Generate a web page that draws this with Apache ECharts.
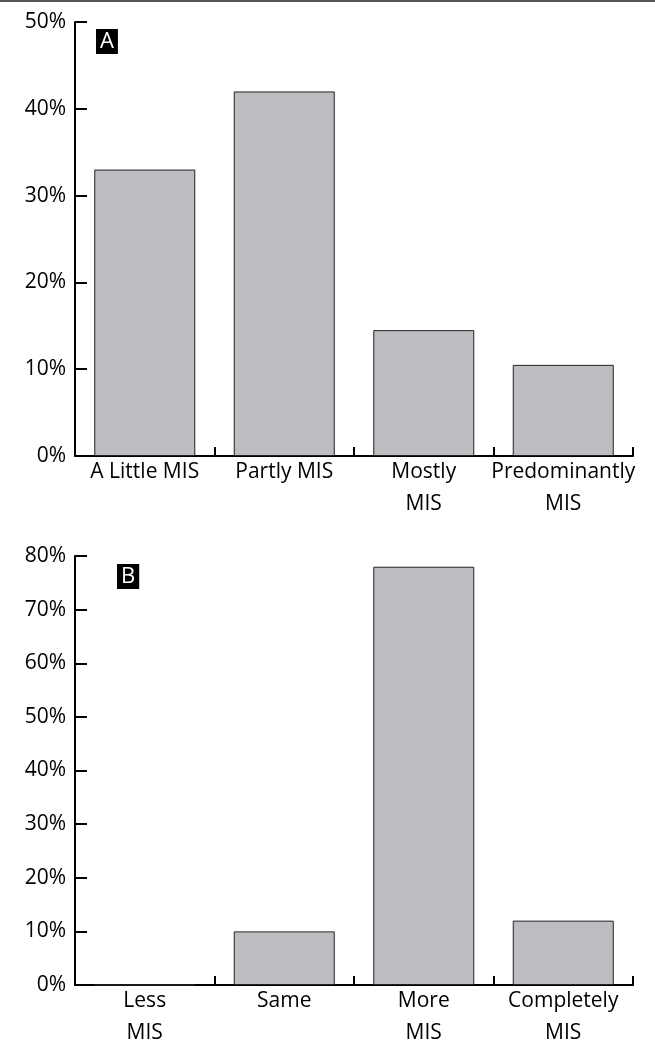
<!DOCTYPE html>
<html>
<head>
<meta charset="utf-8">
<script src="https://cdn.jsdelivr.net/npm/echarts@6/dist/echarts.min.js"></script>
<style>
html,body{margin:0;padding:0;background:#fff;}
#chart{width:655px;height:1049px;}
</style>
</head>
<body>
<div id="chart"></div>
<script>
const categoriesA = ['A Little MIS', 'Partly MIS', 'Mostly\nMIS', 'Predominantly\nMIS'];
const valuesA = [33, 42, 14.5, 10.5];
const ticksA = [0, 10, 20, 30, 40, 50];
const categoriesB = ['Less\nMIS', 'Same', 'More\nMIS', 'Completely\nMIS'];
const valuesB = [0, 10, 78, 12];
const ticksB = [0, 10, 20, 30, 40, 50, 60, 70, 80];

const FONT = 'Open Sans';
const chart = echarts.init(document.getElementById('chart'), null, {renderer: 'canvas'});

function xAxis(idx, cats) {
  return {
    type: 'category', gridIndex: idx, data: cats,
    axisLine: {show: true, lineStyle: {color: '#000', width: 2}},
    axisTick: {show: true, inside: true, length: 9, alignWithLabel: false, lineStyle: {color: '#000', width: 2}},
    axisLabel: {color: '#000', fontFamily: FONT, fontSize: 21, lineHeight: 32, margin: 0, interval: 0}
  };
}
function yAxis(idx, ticks) {
  return {
    type: 'value', gridIndex: idx, min: ticks[0], max: ticks[ticks.length - 1], interval: 10,
    axisLine: {show: true, lineStyle: {color: '#000', width: 2}},
    axisTick: {show: true, inside: true, length: 12, lineStyle: {color: '#000', width: 2}},
    splitLine: {show: false},
    axisLabel: {color: '#000', fontFamily: FONT, fontSize: 21, margin: 9, formatter: v => v + '%'}
  };
}
const barStyle = {color: '#bcbdc1', borderColor: '#222', borderWidth: 1};

chart.setOption({
  animation: false,
  backgroundColor: '#fff',
  title: [
    {text: 'A', left: 96, top: 29, backgroundColor: '#000', padding: [1, 4, 0, 4],
     textStyle: {color: '#fff', fontFamily: FONT, fontSize: 22, fontWeight: 'normal', lineHeight: 24}},
    {text: 'B', left: 117, top: 564, backgroundColor: '#000', padding: [1, 4, 0, 4],
     textStyle: {color: '#fff', fontFamily: FONT, fontSize: 22, fontWeight: 'normal', lineHeight: 24}}
  ],
  graphic: [{type: 'line', shape: {x1: 0, y1: 1, x2: 655, y2: 1}, style: {stroke: '#555', lineWidth: 2}}],
  grid: [
    {left: 75, top: 22, right: 22, height: 434},
    {left: 75, top: 556, right: 22, height: 435}
  ],
  xAxis: [xAxis(0, categoriesA), xAxis(1, categoriesB)],
  yAxis: [yAxis(0, ticksA), yAxis(1, ticksB)],
  series: [
    {type: 'bar', xAxisIndex: 0, yAxisIndex: 0, data: valuesA, barWidth: 101, itemStyle: barStyle},
    {type: 'bar', xAxisIndex: 1, yAxisIndex: 1, data: valuesB, barWidth: 101, itemStyle: barStyle}
  ]
});
</script>
</body>
</html>
